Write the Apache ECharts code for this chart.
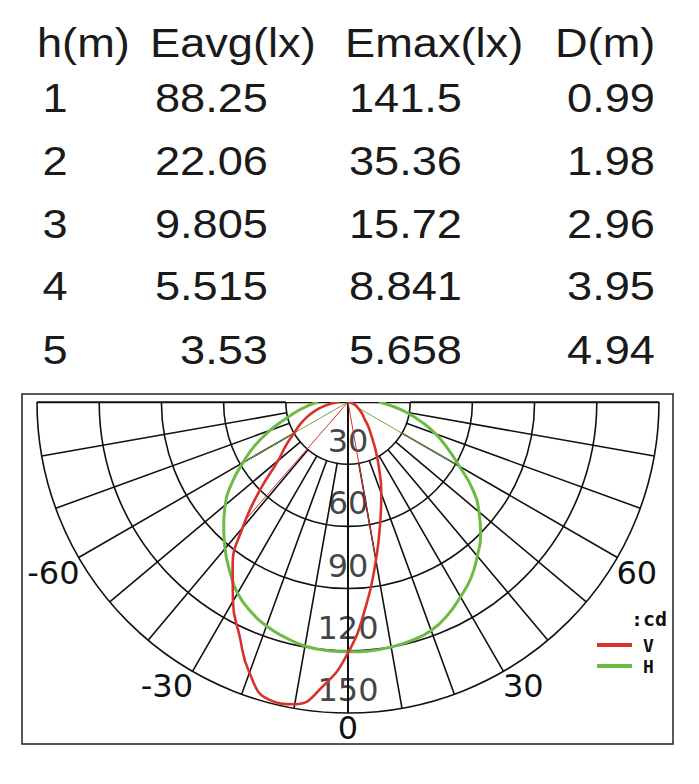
<!DOCTYPE html>
<html>
<head>
<meta charset="utf-8">
<script src="https://cdn.jsdelivr.net/npm/echarts@6/dist/echarts.min.js"></script>
<style>
  html, body { margin: 0; padding: 0; background: #fff; }
  #chart { width: 699px; height: 784px; }
</style>
</head>
<body>
<div id="chart"></div>
<script>
var chartDom = document.getElementById("chart")
var chart = echarts.init(chartDom, null, { renderer: "svg" })

// table above the diagram
var headers = ["h(m)", "Eavg(lx)", "Emax(lx)", "D(m)"]
var heights = [1, 2, 3, 4, 5]
var eavg = ["88.25", "22.06", "9.805", "5.515", "3.53"]
var emax = ["141.5", "35.36", "15.72", "8.841", "5.658"]
var dist = ["0.99", "1.98", "2.96", "3.95", "4.94"]

// polar diagram ticks
var radialTicks = [30, 60, 90, 120, 150]
var angleTicks = [-60, -30, 0, 30, 60]

// luminous intensity (cd) per angle (deg, 0 = straight down)
var vAngles = [-90, -85, -80, -75, -70, -65, -60, -55, -50, -45, -40, -35, -30, -25, -20, -15, -10, -5, 0, 5, 10, 15, 20, 25, 30, 35, 40, 45, 50, 60, 70, 80, 90]
var vValues = [4, 8, 12, 16.5, 21, 25.5, 30, 36.5, 44, 60, 79, 97, 111, 124, 139, 148.5, 148, 137.5, 121, 99, 77.5, 60, 47, 35.5, 26.5, 19.5, 15, 11, 9, 5.5, 3.5, 1.5, 0]
var hAngles = [-90, -85, -80, -75, -70, -65, -60, -55, -50, -45, -40, -35, -30, -25, -20, -15, -10, -5, 0, 5, 10, 15, 20, 25, 30, 35, 40, 45, 50, 55, 60, 65, 70, 75, 80, 85, 90]
var hValues = [14.5, 19, 24.5, 31, 40, 49.5, 58.5, 68.5, 77.3, 84.8, 92.3, 99.5, 106.5, 111.3, 115, 117.5, 119.5, 120.3, 120.5, 120.5, 120, 119, 117.3, 113.5, 108.5, 103.5, 97, 90.5, 82.5, 73.4, 62, 53, 45, 36.5, 28.5, 21, 15]

// half-intensity beam lines
var vBeamAngles = [-41, 10]
var vBeamValue = 74.5
var hBeamAngles = [-60, 60]
var hBeamValue = 60

var tableFont = '40px "Liberation Sans", Arial, sans-serif'
var tableStretch = 1.13
var headerX = [37, 150, 345, 555]
var headerY = 43
var rowY = [98, 161, 224, 286, 350]

function toPolar(angles, values) {
  var out = []
  for (var i = 0; i < angles.length; i++) {
    out.push([values[i], angles[i]])
  }
  return out
}

function beamData(angles, value) {
  return [[value, angles[0]], [0, 0], [value, angles[1]]]
}

function tableText(text, x, y, align) {
  return {
    type: "text",
    x: x,
    y: y,
    scaleX: tableStretch,
    style: { text: text, x: 0, y: 0, font: tableFont, fill: "#1a1a1a", align: align, verticalAlign: "middle" },
  }
}

function getTableGraphics() {
  var items = []
  for (var i = 0; i < headers.length; i++) {
    items.push(tableText(headers[i], headerX[i], headerY, "left"))
  }
  for (var r = 0; r < heights.length; r++) {
    items.push(tableText(String(heights[r]), 55, rowY[r], "center"))
    items.push(tableText(eavg[r], 268, rowY[r], "right"))
    items.push(tableText(emax[r], 462, rowY[r], "right"))
    items.push(tableText(dist[r], 655, rowY[r], "right"))
  }
  items.push({
    type: "rect",
    shape: { x: 22, y: 394, width: 651, height: 350 },
    style: { fill: "none", stroke: "#222", lineWidth: 1.5 },
  })
  return items
}

var gridLine = { color: "#111", width: 1.6 }
var labelFont = { fontFamily: "DejaVu Sans", fontSize: 32, color: "#111" }
var legendFont = { fontFamily: "DejaVu Sans Mono", fontWeight: "bold", color: "#111" }

var option = {
  backgroundColor: "#fff",
  animation: false,
  title: {
    text: ":cd",
    left: 631,
    top: 609,
    padding: 0,
    textStyle: { fontFamily: legendFont.fontFamily, fontWeight: legendFont.fontWeight, fontSize: 20, color: legendFont.color },
  },
  legend: {
    data: ["V", "H"],
    orient: "vertical",
    left: 597,
    top: 636,
    padding: 0,
    itemGap: 3,
    itemWidth: 35,
    itemHeight: 4,
    icon: "rect",
    textStyle: { fontFamily: legendFont.fontFamily, fontWeight: legendFont.fontWeight, fontSize: 18, color: legendFont.color, padding: [0, 0, 0, 6] },
  },
  graphic: getTableGraphics(),
  polar: [
    { center: [348, 402], radius: [0, 311] },
    { center: [348, 402], radius: [62.2, 311] },
  ],
  angleAxis: [
    { polarIndex: 0, type: "value", min: -90, max: 90, startAngle: 180, endAngle: 360, clockwise: false, show: false },
    {
      polarIndex: 1,
      type: "value",
      min: -90,
      max: 90,
      interval: 10,
      startAngle: 180,
      endAngle: 360,
      clockwise: false,
      axisLine: { show: false },
      axisTick: { show: false },
      axisLabel: {
        margin: -1,
        fontFamily: labelFont.fontFamily,
        fontSize: labelFont.fontSize,
        color: labelFont.color,
        formatter: function (v) {
          return angleTicks.indexOf(v) >= 0 ? String(v) : ""
        },
      },
      splitLine: { show: true, lineStyle: gridLine },
    },
  ],
  radiusAxis: [
    { polarIndex: 0, type: "value", min: 0, max: 150, show: false },
    {
      polarIndex: 1,
      type: "value",
      min: 30,
      max: 150,
      interval: 30,
      axisLine: { show: false },
      axisTick: { show: false },
      axisLabel: { show: false },
      splitLine: { show: true, lineStyle: gridLine },
    },
  ],
  series: [
    {
      name: "axisH",
      type: "line",
      coordinateSystem: "polar",
      polarIndex: 0,
      data: [[150, -90], [0, 0], [150, 90]],
      symbol: "none",
      clip: false,
      silent: true,
      lineStyle: { color: "#111", width: 2.6 },
      z: 2,
    },
    {
      name: "axisV",
      type: "line",
      coordinateSystem: "polar",
      polarIndex: 0,
      data: [[0, 0], [150, 0]],
      symbol: "none",
      clip: false,
      silent: true,
      lineStyle: { color: "#111", width: 2 },
      z: 2,
    },
    {
      name: "ticks",
      type: "scatter",
      coordinateSystem: "polar",
      polarIndex: 0,
      data: radialTicks.map(function (v) { return [v, 0] }),
      symbolSize: 0,
      clip: false,
      silent: true,
      z: 3,
      label: {
        show: true,
        position: "top",
        distance: 7,
        fontFamily: labelFont.fontFamily,
        fontSize: labelFont.fontSize,
        color: labelFont.color,
        formatter: function (p) { return String(p.value[0]) },
      },
    },
    {
      name: "V",
      type: "line",
      coordinateSystem: "polar",
      polarIndex: 0,
      data: toPolar(vAngles, vValues),
      smooth: 0.5,
      symbol: "none",
      clip: false,
      color: "#d8322b",
      lineStyle: { color: "#d8322b", width: 2.6 },
      z: 5,
    },
    {
      name: "H",
      type: "line",
      coordinateSystem: "polar",
      polarIndex: 0,
      data: toPolar(hAngles, hValues),
      smooth: 0.5,
      symbol: "none",
      clip: false,
      color: "#6cbb44",
      lineStyle: { color: "#6cbb44", width: 3 },
      z: 4,
    },
    {
      name: "vBeam",
      type: "line",
      coordinateSystem: "polar",
      polarIndex: 0,
      data: beamData(vBeamAngles, vBeamValue),
      symbol: "none",
      clip: false,
      silent: true,
      lineStyle: { color: "#d8322b", width: 1 },
      z: 5,
    },
    {
      name: "hBeam",
      type: "line",
      coordinateSystem: "polar",
      polarIndex: 0,
      data: beamData(hBeamAngles, hBeamValue),
      symbol: "none",
      clip: false,
      silent: true,
      lineStyle: { color: "#7aa34a", width: 1 },
      z: 4,
    },
  ],
}

chart.setOption(option)
</script>
</body>
</html>
